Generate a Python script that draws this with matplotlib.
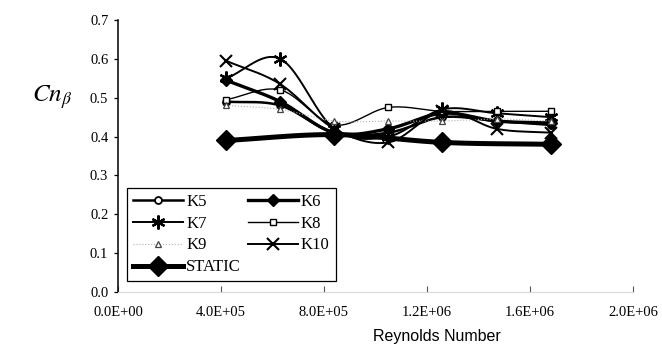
import numpy as np
import matplotlib
matplotlib.use("Agg")
import matplotlib.pyplot as plt

# Reynolds numbers of the test runs
reynolds = [4.2e5, 6.3e5, 8.4e5, 1.05e6, 1.26e6, 1.47e6, 1.68e6]
reynolds_static = [4.2e5, 8.4e5, 1.26e6, 1.68e6]

# Cn_beta for each configuration
k5 = [0.49, 0.48, 0.41, 0.41, 0.45, 0.44, 0.43]
k6 = [0.545, 0.49, 0.41, 0.42, 0.46, 0.44, 0.435]
k7 = [0.55, 0.60, 0.42, 0.40, 0.47, 0.46, 0.45]
k8 = [0.495, 0.52, 0.43, 0.475, 0.465, 0.465, 0.465]
k9 = [0.48, 0.47, 0.44, 0.44, 0.44, 0.445, 0.44]
k10 = [0.595, 0.535, 0.42, 0.385, 0.465, 0.42, 0.41]
static = [0.39, 0.405, 0.385, 0.38]

x_ticks = [0, 4e5, 8e5, 1.2e6, 1.6e6, 2.0e6]
x_tick_labels = ["0.0E+00", "4.0E+05", "8.0E+05", "1.2E+06", "1.6E+06", "2.0E+06"]
y_ticks = [0.0, 0.1, 0.2, 0.3, 0.4, 0.5, 0.6, 0.7]


def smooth(xs, ys, n=30):
    """Catmull-Rom spline through the points (smoothed line style)."""
    xs = np.asarray(xs, float)
    ys = np.asarray(ys, float)
    px = np.concatenate([[2 * xs[0] - xs[1]], xs, [2 * xs[-1] - xs[-2]]])
    py = np.concatenate([[2 * ys[0] - ys[1]], ys, [2 * ys[-1] - ys[-2]]])
    outx, outy = [], []
    t = np.linspace(0, 1, n)
    for i in range(1, len(px) - 2):
        for p, out in ((px, outx), (py, outy)):
            p0, p1, p2, p3 = p[i - 1], p[i], p[i + 1], p[i + 2]
            seg = 0.5 * ((2 * p1) + (-p0 + p2) * t
                         + (2 * p0 - 5 * p1 + 4 * p2 - p3) * t ** 2
                         + (-p0 + 3 * p1 - 3 * p2 + p3) * t ** 3)
            out.extend(seg if i == len(px) - 3 else seg[:-1])
    return np.array(outx), np.array(outy)


fig = plt.figure(figsize=(6.62, 3.47), dpi=100)
ax = fig.add_axes([118 / 662, 55 / 347, 515 / 662, 272 / 347])

serif = "Liberation Serif"

series = [
    ("K5", reynolds, k5, dict(color="black", lw=1.8, marker="o", ms=5,
                              mfc="white", mec="black", mew=1.3)),
    ("K6", reynolds, k6, dict(color="black", lw=2.4, marker="D", ms=6,
                              mfc="black", mec="black")),
    ("K7", reynolds, k7, dict(color="black", lw=1.4, marker=(6, 2, 0), ms=10,
                              mec="black", mew=1.6)),
    ("K8", reynolds, k8, dict(color="black", lw=1.0, marker="s", ms=5,
                              mfc="white", mec="black", mew=1.0)),
    ("K9", reynolds, k9, dict(color="#b0b0b0", lw=0.8, ls=":", marker="^", ms=5,
                              mfc="white", mec="#444444", mew=0.9)),
    ("K10", reynolds, k10, dict(color="black", lw=1.4, marker="x", ms=8,
                                mec="black", mew=1.5)),
    ("STATIC", reynolds_static, static, dict(color="black", lw=3.6, marker="D",
                                             ms=10, mfc="black", mec="black")),
]

handles = {}
for name, xs, ys, st in series:
    sx, sy = smooth(xs, ys)
    line_kw = {k: v for k, v in st.items() if k in ("color", "lw", "ls")}
    ax.plot(sx, sy, solid_capstyle="round", **line_kw)
    mk_kw = {k: v for k, v in st.items() if k not in ("color", "lw", "ls")}
    ax.plot(xs, ys, ls="none", color=st["color"] if name != "K9" else "#444444",
            **mk_kw)
    h, = ax.plot([], [], label=name, **st)
    handles[name] = h

ax.set_xlim(0, 2.0e6)
ax.set_ylim(0, 0.7)
ax.set_xticks(x_ticks)
ax.set_xticklabels(x_tick_labels)
ax.set_yticks(y_ticks)
ax.set_yticklabels([f"{v:.1f}" for v in y_ticks])

for lab in ax.get_xticklabels() + ax.get_yticklabels():
    lab.set_fontfamily(serif)
    lab.set_fontsize(10.5)

ax.tick_params(axis="x", direction="in", length=4, width=0.8, color="#555555",
               pad=10)
ax.tick_params(axis="y", direction="out", length=3, width=0.9, pad=4)

ax.spines["top"].set_visible(False)
ax.spines["right"].set_visible(False)
ax.spines["left"].set_linewidth(1.1)
ax.spines["bottom"].set_color("#d8d8d8")
ax.spines["bottom"].set_linewidth(0.8)

fig.text(437 / 662, 1 - 337 / 347, "Reynolds Number",
         fontfamily="Liberation Sans", fontsize=11.5, ha="center", va="center")

fig.text(52 / 662, 1 - 97 / 347, r"$Cn_{\beta}$", fontsize=18,
         ha="center", va="center",
         math_fontfamily="stix")

order = ["K5", "K7", "K9", "STATIC", "K6", "K8", "K10"]
leg = ax.legend([handles[n] for n in order], order, ncol=2,
                loc="upper left",
                bbox_to_anchor=(127 / 662, 1 - 188 / 347),
                bbox_transform=fig.transFigure,
                prop={"family": serif, "size": 12},
                handlelength=3.0, handletextpad=0.2, columnspacing=0.4,
                labelspacing=0.35, borderpad=0.35, borderaxespad=0,
                frameon=True, fancybox=False, edgecolor="black",
                framealpha=1)
leg.get_frame().set_linewidth(0.9)

fig.savefig("out.png", dpi=100)
